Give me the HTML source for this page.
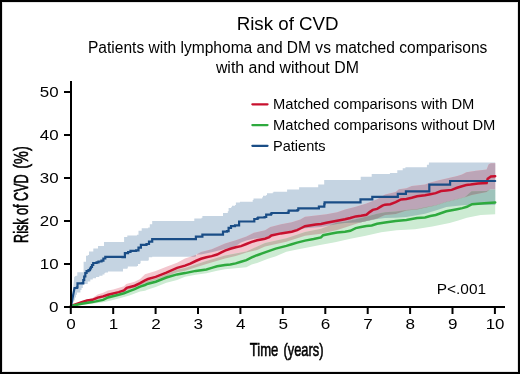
<!DOCTYPE html>
<html><head><meta charset="utf-8">
<style>
html,body{margin:0;padding:0;background:#fff;}
body{width:520px;height:374px;overflow:hidden;}
svg{display:block;will-change:transform;}
text{font-family:"Liberation Sans",sans-serif;fill:#000;}

</style></head>
<body>
<svg width="520" height="374" viewBox="0 0 520 374">
<rect x="0" y="0" width="520" height="374" fill="#fff"/>
<g class="bands">
<path d="M71.00,306.00 L73.80,301.50 L74.80,299.60 L74.80,297.50 L75.90,297.50 L75.90,294.80 L77.00,294.80 L77.00,292.40 L80.40,292.40 L80.40,290.00 L81.50,290.00 L81.50,287.90 L82.80,287.90 L82.80,285.20 L85.10,284.00 L87.70,284.00 L87.70,281.50 L90.30,281.50 L90.30,279.60 L92.80,279.60 L92.80,278.30 L96.00,278.30 L96.00,277.00 L99.30,277.00 L99.30,275.70 L102.50,275.70 L102.50,274.40 L104.50,274.40 L104.50,273.10 L105.30,273.10 L105.30,272.50 L108.00,272.50 L108.00,271.40 L122.40,271.40 L123.00,271.40 L123.00,268.70 L127.30,268.70 L127.30,268.20 L127.80,268.20 L127.80,266.60 L136.90,266.60 L136.90,266.00 L138.00,266.00 L138.00,263.90 L140.10,263.90 L140.10,263.30 L140.60,263.30 L140.60,260.70 L148.30,260.70 L148.30,260.30 L148.80,260.30 L148.80,257.20 L152.20,257.20 L152.20,256.80 L195.00,256.80 L195.00,256.40 L196.00,256.40 L196.00,254.60 L201.00,254.40 L211.70,252.35 L225.00,249.00 L235.70,246.05 L241.00,242.50 L246.40,240.54 L253.90,238.70 L265.00,237.50 L281.00,233.00 L297.00,229.50 L305.00,228.20 L321.00,227.10 L337.10,224.00 L345.00,223.00 L361.00,222.30 L377.10,219.00 L385.00,218.00 L395.70,217.71 L406.40,217.11 L425.00,213.82 L435.70,210.56 L446.40,207.09 L465.00,205.12 L495.20,205.00 L495.20,162.60 L428.90,162.60 L428.90,164.80 L426.90,164.80 L426.90,167.20 L426.20,167.20 L405.40,167.20 L405.40,168.20 L402.70,168.20 L402.70,170.20 L402.00,170.20 L397.30,170.20 L397.30,172.90 L396.60,172.90 L389.90,172.90 L389.90,174.00 L389.20,174.00 L371.70,174.00 L371.70,176.80 L371.10,176.80 L360.70,176.80 L360.70,180.00 L359.90,180.00 L324.20,180.00 L324.20,184.40 L323.80,184.40 L318.20,184.40 L318.20,187.20 L317.40,187.20 L317.40,187.30 L299.10,187.30 L299.10,189.60 L298.30,189.60 L287.10,189.60 L287.10,191.70 L286.30,191.70 L273.50,191.70 L273.50,192.50 L272.70,192.50 L272.70,193.30 L267.00,193.30 L267.00,194.90 L266.20,194.90 L266.20,195.70 L263.00,195.70 L263.00,197.30 L262.20,197.30 L262.20,198.50 L253.50,198.50 L253.50,200.00 L252.70,200.00 L252.70,201.70 L239.90,201.70 L239.90,202.50 L235.90,202.50 L235.90,204.90 L235.00,204.90 L235.00,205.70 L231.90,205.70 L231.90,207.30 L231.00,207.30 L231.00,208.10 L228.60,208.10 L228.60,211.30 L227.80,211.30 L227.80,212.90 L223.00,212.90 L223.00,216.10 L222.40,216.10 L202.40,216.10 L202.40,217.70 L201.50,217.70 L201.50,218.50 L194.30,218.50 L194.30,221.00 L193.50,221.00 L152.20,221.00 L152.20,224.30 L149.80,224.30 L149.80,227.50 L148.20,227.50 L148.20,228.30 L141.70,228.30 L141.70,230.70 L138.50,230.70 L138.50,234.70 L136.90,234.70 L136.90,235.50 L127.30,235.50 L127.30,237.10 L124.10,237.10 L124.10,241.90 L122.50,241.90 L104.00,241.90 L104.00,245.90 L100.00,245.90 L100.00,246.00 L98.00,246.00 L98.00,248.40 L93.30,248.40 L93.30,251.40 L89.00,251.40 L89.00,255.00 L87.80,255.00 L87.80,255.70 L86.00,255.70 L86.00,261.70 L83.60,261.70 L83.60,272.20 L83.00,272.20 L77.30,272.20 L77.30,275.70 L76.00,275.70 L74.20,277.00 L73.00,291.00Z" fill="#c5d4e2"/>
<path d="M71.00,306.00 L92.40,301.00 L103.10,298.00 L118.70,293.50 L129.40,289.50 L140.10,285.50 L145.00,283.50 L155.70,280.10 L166.40,276.40 L177.10,272.24 L185.00,270.67 L206.40,263.88 L225.00,258.60 L235.70,256.10 L246.40,252.60 L257.10,250.10 L265.00,246.60 L286.40,241.74 L305.00,235.80 L321.00,233.79 L337.10,230.06 L345.00,227.50 L361.00,222.30 L377.10,218.50 L385.00,215.07 L395.70,214.00 L406.40,210.50 L417.10,209.50 L425.00,207.67 L435.70,205.39 L446.40,201.97 L451.70,200.77 L465.00,197.28 L471.60,195.01 L486.60,192.10 L489.80,189.40 L495.20,189.40 L495.20,163.20 L490.90,163.20 L488.70,164.30 L486.60,169.60 L475.90,170.70 L466.30,172.30 L462.00,174.50 L457.10,176.10 L449.60,177.70 L438.90,180.30 L430.30,182.50 L425.00,184.50 L411.70,186.10 L406.40,188.20 L398.90,189.30 L395.70,192.00 L385.00,194.50 L377.10,199.30 L366.40,203.60 L355.70,206.80 L345.00,209.50 L337.10,212.20 L326.40,214.30 L315.70,215.40 L305.00,216.80 L300.30,219.50 L291.70,222.20 L281.00,224.30 L270.30,227.00 L265.00,230.20 L253.90,232.80 L246.40,236.60 L235.70,240.30 L225.00,243.50 L211.70,249.20 L201.00,251.90 L195.70,255.00 L185.00,258.50 L177.10,262.81 L166.40,266.80 L155.70,271.10 L145.00,274.30 L140.10,278.89 L134.70,281.85 L126.20,284.02 L124.00,286.30 L113.30,289.50 L108.00,290.60 L103.10,292.77 L97.70,294.61 L92.40,297.96 L80.00,302.00Z" fill="#f3c6ce"/>
<path d="M71.00,306.00 L92.40,303.79 L103.10,302.18 L111.00,300.54 L118.70,298.61 L129.40,295.45 L140.10,291.60 L145.00,290.80 L148.00,289.50 L155.70,287.00 L166.40,282.70 L177.10,280.00 L185.00,276.80 L195.70,274.80 L206.40,273.25 L217.10,270.74 L225.00,269.20 L246.40,267.20 L251.70,264.50 L257.10,262.90 L268.00,258.70 L276.00,256.20 L286.40,251.70 L297.10,249.60 L305.00,248.00 L320.00,245.08 L335.00,242.30 L350.40,238.70 L365.80,235.73 L381.20,232.28 L396.50,230.30 L415.00,229.30 L432.30,226.60 L449.60,223.05 L458.30,220.40 L466.90,217.76 L480.70,215.08 L495.20,214.20 L495.20,189.40 L489.80,189.40 L486.60,191.00 L471.60,191.13 L465.00,197.12 L451.70,200.57 L446.40,201.77 L435.70,205.19 L425.00,207.27 L417.10,209.00 L406.40,210.00 L395.70,211.60 L385.00,212.20 L377.10,213.70 L361.00,218.00 L345.00,221.70 L337.10,222.50 L321.00,228.70 L305.00,232.00 L286.40,238.20 L265.00,243.00 L246.40,251.50 L225.00,255.60 L206.40,261.00 L185.00,268.00 L177.10,269.40 L166.40,274.30 L155.70,278.50 L145.00,281.50 L140.10,284.00 L129.40,288.00 L118.70,292.00 L103.10,296.50 L92.40,300.00Z" fill="#cdebd3"/>
<path d="M195.00,256.80 L195.00,256.40 L196.00,256.40 L196.00,254.82 L195.70,255.00 L190.20,256.80Z" fill="#bca5b7"/>
<path d="M201.00,254.40 L211.70,252.35 L225.00,249.00 L235.70,246.05 L241.00,242.50 L246.40,240.54 L253.90,238.70 L265.00,237.50 L281.00,233.00 L297.00,229.50 L305.00,228.20 L321.00,227.10 L337.10,224.00 L345.00,223.00 L361.00,222.30 L377.10,218.50 L385.00,215.07 L395.70,214.00 L406.40,210.50 L417.10,209.50 L425.00,207.67 L435.70,205.39 L446.40,201.97 L451.70,200.77 L465.00,197.28 L471.60,195.01 L486.60,192.10 L489.80,189.40 L495.20,189.40 L495.20,163.20 L490.90,163.20 L488.70,164.30 L486.60,169.60 L475.90,170.70 L466.30,172.30 L462.00,174.50 L457.10,176.10 L449.60,177.70 L438.90,180.30 L430.30,182.50 L425.00,184.50 L411.70,186.10 L406.40,188.20 L398.90,189.30 L395.70,192.00 L385.00,194.50 L377.10,199.30 L366.40,203.60 L355.70,206.80 L345.00,209.50 L337.10,212.20 L326.40,214.30 L315.70,215.40 L305.00,216.80 L300.30,219.50 L291.70,222.20 L281.00,224.30 L270.30,227.00 L265.00,230.20 L253.90,232.80 L246.40,236.60 L235.70,240.30 L225.00,243.50 L211.70,249.20 L201.00,251.90 L196.41,254.58Z" fill="#bca5b7"/>
<path d="M337.10,224.00 L345.00,223.00 L361.00,222.30 L377.10,219.00 L385.00,218.00 L395.70,217.71 L406.40,217.11 L425.00,213.82 L435.70,210.56 L446.40,207.09 L465.00,205.12 L495.20,205.00 L495.20,189.40 L489.80,189.40 L486.60,191.00 L471.60,191.13 L465.00,197.12 L451.70,200.57 L446.40,201.77 L435.70,205.19 L425.00,207.27 L417.10,209.00 L406.40,210.00 L395.70,211.60 L385.00,212.20 L377.10,213.70 L361.00,218.00 L345.00,221.70 L337.10,222.50 L329.31,225.50Z" fill="#9ec3bb"/>
<path d="M92.40,301.00 L103.10,298.00 L118.70,293.50 L129.40,289.50 L140.10,285.50 L145.00,283.50 L155.70,280.10 L166.40,276.40 L177.10,272.24 L185.00,270.67 L206.40,263.88 L225.00,258.60 L235.70,256.10 L246.40,252.60 L257.10,250.10 L265.00,246.60 L286.40,241.74 L305.00,235.80 L321.00,233.79 L337.10,230.06 L345.00,227.50 L361.00,222.30 L377.10,218.50 L385.00,215.07 L395.70,214.00 L406.40,210.50 L417.10,209.50 L425.00,207.67 L435.70,205.39 L446.40,201.97 L451.70,200.77 L465.00,197.28 L471.60,195.01 L486.60,192.10 L489.80,189.40 L486.60,191.00 L471.60,191.13 L465.00,197.12 L451.70,200.57 L446.40,201.77 L435.70,205.19 L425.00,207.27 L417.10,209.00 L406.40,210.00 L395.70,211.60 L385.00,212.20 L377.10,213.70 L361.00,218.00 L345.00,221.70 L337.10,222.50 L321.00,228.70 L305.00,232.00 L286.40,238.20 L265.00,243.00 L246.40,251.50 L225.00,255.60 L206.40,261.00 L185.00,268.00 L177.10,269.40 L166.40,274.30 L155.70,278.50 L145.00,281.50 L140.10,284.00 L129.40,288.00 L118.70,292.00 L103.10,296.50 L92.40,300.00 L71.00,306.00Z" fill="#c3b6aa"/>
<path d="M337.10,224.00 L345.00,223.00 L361.00,222.30 L377.10,218.50 L385.00,215.07 L395.70,214.00 L406.40,210.50 L417.10,209.50 L425.00,207.67 L435.70,205.39 L446.40,201.97 L451.70,200.77 L465.00,197.28 L471.60,195.01 L486.60,192.10 L489.80,189.40 L486.60,191.00 L471.60,191.13 L465.00,197.12 L451.70,200.57 L446.40,201.77 L435.70,205.19 L425.00,207.27 L417.10,209.00 L406.40,210.00 L395.70,211.60 L385.00,212.20 L377.10,213.70 L361.00,218.00 L345.00,221.70 L337.10,222.50 L329.31,225.50Z" fill="#979897"/>
</g>
<g fill="none" stroke-width="2.2" stroke-linejoin="miter" stroke-linecap="round">
<polyline stroke="#c8102e" stroke-width="2.5" points="71.0,306.0 81.7,302.1 87.0,300.5 92.4,299.8 97.7,297.6 103.1,296.4 108.0,294.7 118.7,292.1 124.0,290.5 126.7,287.8 134.7,285.7 140.1,283.1 145.0,280.3 148.0,279.0 155.7,276.9 166.4,272.6 177.1,267.9 185.0,265.6 190.3,263.6 195.7,261.0 201.0,258.8 206.4,257.2 211.7,256.1 217.1,254.5 221.4,252.4 225.0,250.6 230.3,248.8 235.7,247.2 241.0,246.1 246.4,244.0 251.7,241.9 257.1,240.3 265.0,238.7 269.3,237.1 271.4,235.5 281.0,233.4 291.7,231.8 297.1,230.1 301.4,228.0 305.0,226.2 315.7,224.4 321.0,223.9 326.4,222.8 331.7,221.8 337.1,220.7 345.0,219.3 350.3,218.0 355.7,216.4 361.0,215.8 366.4,214.8 369.6,212.1 372.8,209.9 377.1,208.9 382.4,205.7 385.0,204.7 390.3,204.2 395.7,202.1 401.0,199.4 406.4,198.9 411.7,197.8 417.1,196.2 425.0,195.2 430.3,194.2 435.7,193.1 441.0,191.0 446.4,190.5 451.7,189.9 457.1,187.8 462.0,186.2 466.3,185.1 470.6,184.6 478.0,183.5 486.6,183.0 487.7,178.7 490.9,176.5 495.2,176.3"/>
<polyline stroke="#2eaa3e" stroke-width="2.5" points="71.0,306.0 81.7,303.7 92.4,302.1 103.1,299.9 108.0,297.5 118.7,294.8 124.0,293.2 129.4,291.1 134.7,289.2 140.1,286.6 145.0,285.0 148.0,283.7 155.7,281.7 166.4,277.5 177.1,274.4 185.0,273.1 195.7,270.9 206.4,269.4 211.7,267.9 217.1,266.3 225.0,265.1 230.3,264.5 235.7,263.4 241.0,261.7 246.4,260.1 251.7,257.4 257.1,255.2 265.0,252.4 275.7,248.6 286.4,245.9 291.7,244.2 297.1,242.6 305.0,240.6 313.6,239.0 321.0,237.4 323.2,235.2 331.7,233.6 337.1,232.5 345.0,231.7 350.3,230.8 355.7,228.1 361.0,227.1 366.4,226.0 371.7,225.4 377.1,223.8 385.0,222.6 395.7,221.0 406.4,220.1 417.1,218.1 425.0,217.5 430.3,216.0 435.7,215.0 446.4,211.3 451.7,210.2 457.1,209.2 462.4,208.1 466.9,206.8 472.1,204.2 484.2,203.3 495.2,202.4"/>
<polyline stroke="#1a4d86" points="71.0,306.0 74.5,288.0 76.9,288.0 76.9,287.4 77.5,287.4 77.5,283.3 82.6,283.3 82.6,283.1 83.3,283.1 83.3,280.0 84.2,280.0 84.2,276.5 85.3,276.5 85.3,273.0 86.6,273.0 86.6,271.2 88.5,271.2 88.5,270.2 90.0,270.2 90.0,268.5 91.0,268.5 91.0,267.0 92.0,267.0 92.0,265.0 93.2,265.0 93.2,263.0 96.6,263.0 96.6,262.3 98.5,262.3 98.5,261.5 101.5,261.5 101.5,260.7 103.4,260.7 103.4,258.5 105.3,258.5 105.3,256.9 122.5,256.9 122.5,257.1 124.9,257.1 124.9,253.1 128.1,253.1 128.1,252.0 130.5,252.0 130.5,250.8 136.1,250.8 136.1,250.4 138.5,250.4 138.5,247.6 140.9,247.6 140.9,244.8 146.5,244.8 146.5,244.0 149.0,244.0 149.0,241.6 152.2,241.6 152.2,239.1 194.3,239.1 195.9,239.1 195.9,236.6 201.5,236.6 202.4,236.6 202.4,234.7 221.6,234.7 223.0,234.7 223.0,231.7 227.0,231.7 227.0,231.1 228.6,231.1 228.6,227.9 231.0,227.9 231.0,226.2 235.0,226.2 235.0,225.4 239.1,225.4 239.1,221.5 252.7,221.5 254.3,221.5 254.3,219.0 257.5,219.0 257.5,218.2 258.2,218.2 258.2,217.5 264.6,217.5 264.6,217.0 266.2,217.0 266.2,214.6 271.0,214.6 271.0,213.5 271.9,213.5 271.9,213.0 287.9,213.0 287.9,212.6 288.7,212.6 288.7,210.6 297.5,210.6 297.5,210.0 298.3,210.0 298.3,208.3 317.8,208.3 318.9,208.3 318.9,206.7 323.7,206.7 324.3,206.7 324.3,204.1 324.6,204.1 324.6,202.3 360.0,202.3 360.5,202.3 360.5,199.4 371.7,199.4 372.3,199.4 372.3,196.8 397.3,196.8 397.8,196.8 397.8,193.8 405.3,193.8 405.9,193.8 405.9,191.3 428.7,191.3 429.3,191.3 429.3,184.6 449.6,184.6 450.1,184.6 450.1,181.0 495.2,181.0"/>
</g>
<g stroke="#000" stroke-width="2">
<line x1="71" y1="81" x2="71" y2="308"/>
<line x1="70" y1="307" x2="505" y2="307"/>
<line x1="64" y1="307" x2="71" y2="307"/><line x1="64" y1="264" x2="71" y2="264"/><line x1="64" y1="221" x2="71" y2="221"/><line x1="64" y1="178" x2="71" y2="178"/><line x1="64" y1="135" x2="71" y2="135"/><line x1="64" y1="92" x2="71" y2="92"/>
<line x1="70.8" y1="307" x2="70.8" y2="314"/><line x1="113.2" y1="307" x2="113.2" y2="314"/><line x1="155.6" y1="307" x2="155.6" y2="314"/><line x1="198.0" y1="307" x2="198.0" y2="314"/><line x1="240.4" y1="307" x2="240.4" y2="314"/><line x1="282.8" y1="307" x2="282.8" y2="314"/><line x1="325.3" y1="307" x2="325.3" y2="314"/><line x1="367.7" y1="307" x2="367.7" y2="314"/><line x1="410.1" y1="307" x2="410.1" y2="314"/><line x1="452.5" y1="307" x2="452.5" y2="314"/><line x1="494.9" y1="307" x2="494.9" y2="314"/>
</g>
<g font-size="15"><text x="49.10" y="312.3" textLength="9.5" lengthAdjust="spacingAndGlyphs">0</text><text x="39.80" y="269.3" textLength="18.8" lengthAdjust="spacingAndGlyphs">10</text><text x="39.80" y="226.3" textLength="18.8" lengthAdjust="spacingAndGlyphs">20</text><text x="39.80" y="183.3" textLength="18.8" lengthAdjust="spacingAndGlyphs">30</text><text x="39.80" y="140.3" textLength="18.8" lengthAdjust="spacingAndGlyphs">40</text><text x="39.80" y="97.3" textLength="18.8" lengthAdjust="spacingAndGlyphs">50</text></g>
<g font-size="15"><text x="66.35" y="328.7" textLength="9.5" lengthAdjust="spacingAndGlyphs">0</text><text x="108.76" y="328.7" textLength="9.5" lengthAdjust="spacingAndGlyphs">1</text><text x="151.17" y="328.7" textLength="9.5" lengthAdjust="spacingAndGlyphs">2</text><text x="193.58" y="328.7" textLength="9.5" lengthAdjust="spacingAndGlyphs">3</text><text x="235.99" y="328.7" textLength="9.5" lengthAdjust="spacingAndGlyphs">4</text><text x="278.40" y="328.7" textLength="9.5" lengthAdjust="spacingAndGlyphs">5</text><text x="320.81" y="328.7" textLength="9.5" lengthAdjust="spacingAndGlyphs">6</text><text x="363.22" y="328.7" textLength="9.5" lengthAdjust="spacingAndGlyphs">7</text><text x="405.63" y="328.7" textLength="9.5" lengthAdjust="spacingAndGlyphs">8</text><text x="448.04" y="328.7" textLength="9.5" lengthAdjust="spacingAndGlyphs">9</text><text x="485.70" y="328.7" textLength="18.8" lengthAdjust="spacingAndGlyphs">10</text></g>
<text x="287.65" y="29.7" font-size="19" text-anchor="middle" textLength="102" lengthAdjust="spacingAndGlyphs">Risk of CVD</text>
<text x="287.7" y="53" font-size="15.6" text-anchor="middle" textLength="399.4" lengthAdjust="spacingAndGlyphs">Patients with lymphoma and DM vs matched comparisons</text>
<text x="287.4" y="72.6" font-size="15.6" text-anchor="middle" textLength="143" lengthAdjust="spacingAndGlyphs">with and without DM</text>
<g stroke-width="2.3" stroke-linecap="round">
<line x1="252.4" y1="104.3" x2="267.5" y2="104.3" stroke="#c8102e"/>
<line x1="252.4" y1="125.1" x2="267.5" y2="125.1" stroke="#2eaa3e"/>
<line x1="252.4" y1="145.8" x2="267.5" y2="145.8" stroke="#1a4d86"/>
</g>
<g font-size="14.6">
<text x="273" y="109.1" textLength="201.4" lengthAdjust="spacingAndGlyphs">Matched comparisons with DM</text>
<text x="273" y="129.9" textLength="222.4" lengthAdjust="spacingAndGlyphs">Matched comparisons without DM</text>
<text x="273" y="150.8" textLength="52.6" lengthAdjust="spacingAndGlyphs">Patients</text>
</g>
<text x="436.8" y="293.6" font-size="15" textLength="49.3" lengthAdjust="spacingAndGlyphs">P&lt;.001</text>
<g font-size="19" stroke="#000" stroke-width="0.6">
<text x="249.8" y="355.6" textLength="28.6" lengthAdjust="spacingAndGlyphs">Time</text>
<text x="283.5" y="355.6" textLength="40" lengthAdjust="spacingAndGlyphs">(years)</text>
</g>
<g font-size="19.5" stroke="#000" stroke-width="0.6">
<text transform="translate(27.7,242.9) rotate(-90)" textLength="68.6" lengthAdjust="spacingAndGlyphs">Risk of CVD</text>
<text transform="translate(27.7,168.7) rotate(-90)" textLength="22.4" lengthAdjust="spacingAndGlyphs">(%)</text>
</g>
<rect x="2.5" y="2.5" width="515" height="369" fill="none" stroke="#000" stroke-opacity="0.1" stroke-width="1"/>
<rect x="1" y="1" width="518" height="372" fill="none" stroke="#000" stroke-width="2"/>
</svg>
</body></html>
